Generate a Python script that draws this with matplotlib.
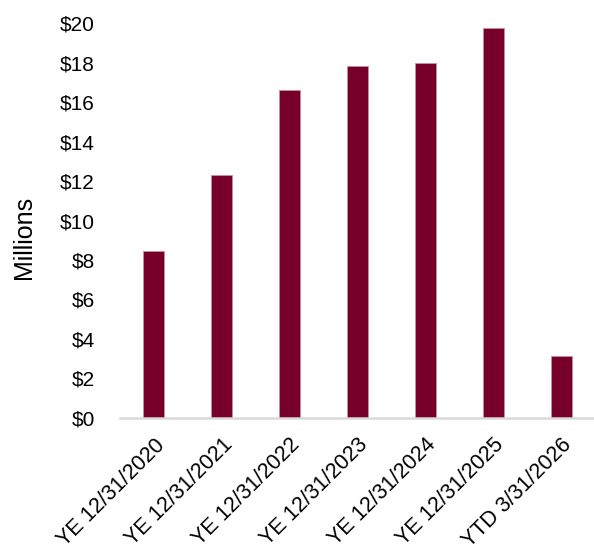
import matplotlib.pyplot as plt
from matplotlib.ticker import FuncFormatter

plt.rcParams['font.family'] = ['Liberation Sans', 'DejaVu Sans']

# periods and revenue values (millions)
periods = ['YE 12/31/2020', 'YE 12/31/2021', 'YE 12/31/2022', 'YE 12/31/2023',
           'YE 12/31/2024', 'YE 12/31/2025', 'YTD 3/31/2026']
values = [8.45, 12.3, 16.6, 17.85, 18.0, 19.78, 3.15]

fig = plt.figure(figsize=(5.94, 5.52), dpi=100)
ax = fig.add_axes([0.202, 0.243, 0.80, 0.715])

x = range(len(periods))
ax.bar(x, values, width=0.31, color='#76002A', edgecolor='#C98FA3', linewidth=0.6)

ax.set_ylim(0, 20)
ax.set_xlim(-0.5, 6.5)
ax.set_yticks(range(0, 21, 2))
ax.yaxis.set_major_formatter(FuncFormatter(lambda v, p: '${:d}'.format(int(v))))
ax.set_xticks(list(x))
ax.set_xticklabels(periods, rotation=45, ha='right', rotation_mode='anchor', fontsize=15.5)

for s in ['top', 'right', 'left']:
    ax.spines[s].set_visible(False)
ax.spines['bottom'].set_color('#D9D9D9')
ax.spines['bottom'].set_linewidth(1.8)
ax.tick_params(axis='both', length=0, colors='#000000')
ax.tick_params(axis='y', pad=18, labelsize=15)
ax.tick_params(axis='x', pad=12)

# y label placed like the original
fig.text(24 / 594, 1 - 237 / 552, 'Millions', rotation=90, ha='center', va='center', fontsize=18)

fig.savefig('out.png', dpi=100)
